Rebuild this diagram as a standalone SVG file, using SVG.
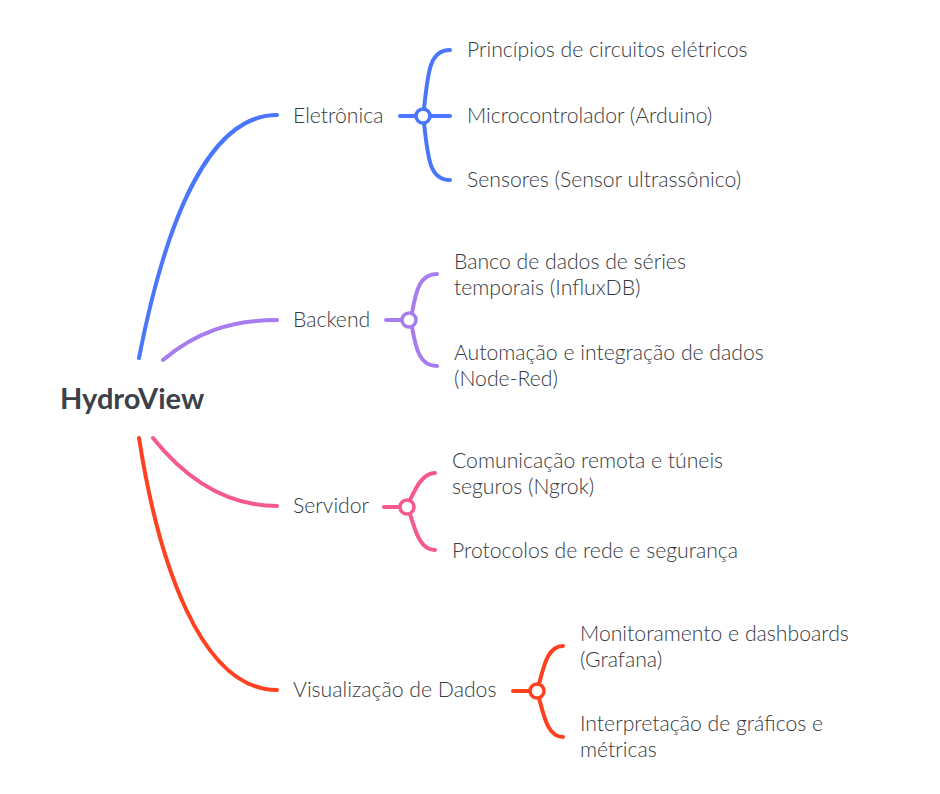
<svg xmlns="http://www.w3.org/2000/svg" width="940" height="794" viewBox="0 0 940 794">
<style>
  text { font-family: "Lato", "Open Sans", "Liberation Sans", sans-serif; fill: #353941; font-size: 21.2px; font-weight: 300; }
  .root { font-size: 29px; font-weight: bold; fill: #3c4048; }
  .c { fill: none; stroke-width: 4; stroke-linecap: round; }
  .hub { fill: #ffffff; stroke-width: 3.5; }
  .blue { stroke: #4a76fb; }
  .purple { stroke: #a67cf0; }
  .pink { stroke: #f45b8c; }
  .red { stroke: #ff4120; }
</style>
<rect width="940" height="794" fill="#ffffff"/>
<g id="connectors">
  <path class="c blue" d="M139,358 C160,250 200,115 277,115"/>
  <path class="c purple" d="M163,360 C195,333 230,320 277,320"/>
  <path class="c pink" d="M153,438 C185,478 225,506 277,506"/>
  <path class="c red" d="M139,438 C158,560 200,690 277,690"/>

  <path class="c blue" d="M400,116 L416,116"/>
  <path class="c blue" d="M430,116 L450,116"/>
  <path class="c blue" d="M424,109 C428,70 430,50 450,50"/>
  <path class="c blue" d="M424,123 C428,160 430,180 450,180"/>

  <path class="c purple" d="M386,320 L403,320"/>
  <path class="c purple" d="M412,313 C416,290 420,274 437,274"/>
  <path class="c purple" d="M412,327 C416,350 420,366 437,366"/>

  <path class="c pink" d="M384,507 L400,507"/>
  <path class="c pink" d="M410,500 C415,490 422,473 435,473"/>
  <path class="c pink" d="M410,514 C415,530 420,550 435,550"/>

  <path class="c red" d="M513,691 L530,691"/>
  <path class="c red" d="M539,684 C544,665 548,646 563,646"/>
  <path class="c red" d="M539,698 C544,717 548,737 563,737"/>
</g>
<g id="hub-eletronica"><circle class="hub blue" cx="423" cy="116" r="7"/></g>
<g id="hub-backend"><circle class="hub purple" cx="409" cy="320" r="7"/></g>
<g id="hub-servidor"><circle class="hub pink" cx="407" cy="507" r="7"/></g>
<g id="hub-visualizacao"><circle class="hub red" cx="537" cy="691" r="7"/></g>

<g id="root"><text class="root" x="60" y="409">HydroView</text></g>

<g id="eletronica"><text x="293" y="123">Eletrônica</text></g>
<g id="e1"><text x="467" y="57">Princípios de circuitos elétricos</text></g>
<g id="e2"><text x="467" y="123">Microcontrolador (Arduino)</text></g>
<g id="e3"><text x="467" y="187">Sensores (Sensor ultrassônico)</text></g>

<g id="backend"><text x="293" y="327">Backend</text></g>
<g id="b1"><text x="454" y="269">Banco de dados de séries</text><text x="454" y="295">temporais (InfluxDB)</text></g>
<g id="b2"><text x="454" y="360">Automação e integração de dados</text><text x="454" y="386">(Node-Red)</text></g>

<g id="servidor"><text x="293" y="513">Servidor</text></g>
<g id="s1"><text x="452" y="468">Comunicação remota e túneis</text><text x="452" y="494">seguros (Ngrok)</text></g>
<g id="s2"><text x="452" y="558">Protocolos de rede e segurança</text></g>

<g id="visualizacao"><text x="293" y="697">Visualização de Dados</text></g>
<g id="v1"><text x="580" y="641">Monitoramento e dashboards</text><text x="580" y="667">(Grafana)</text></g>
<g id="v2"><text x="580" y="731">Interpretação de gráficos e</text><text x="580" y="757">métricas</text></g>
</svg>
